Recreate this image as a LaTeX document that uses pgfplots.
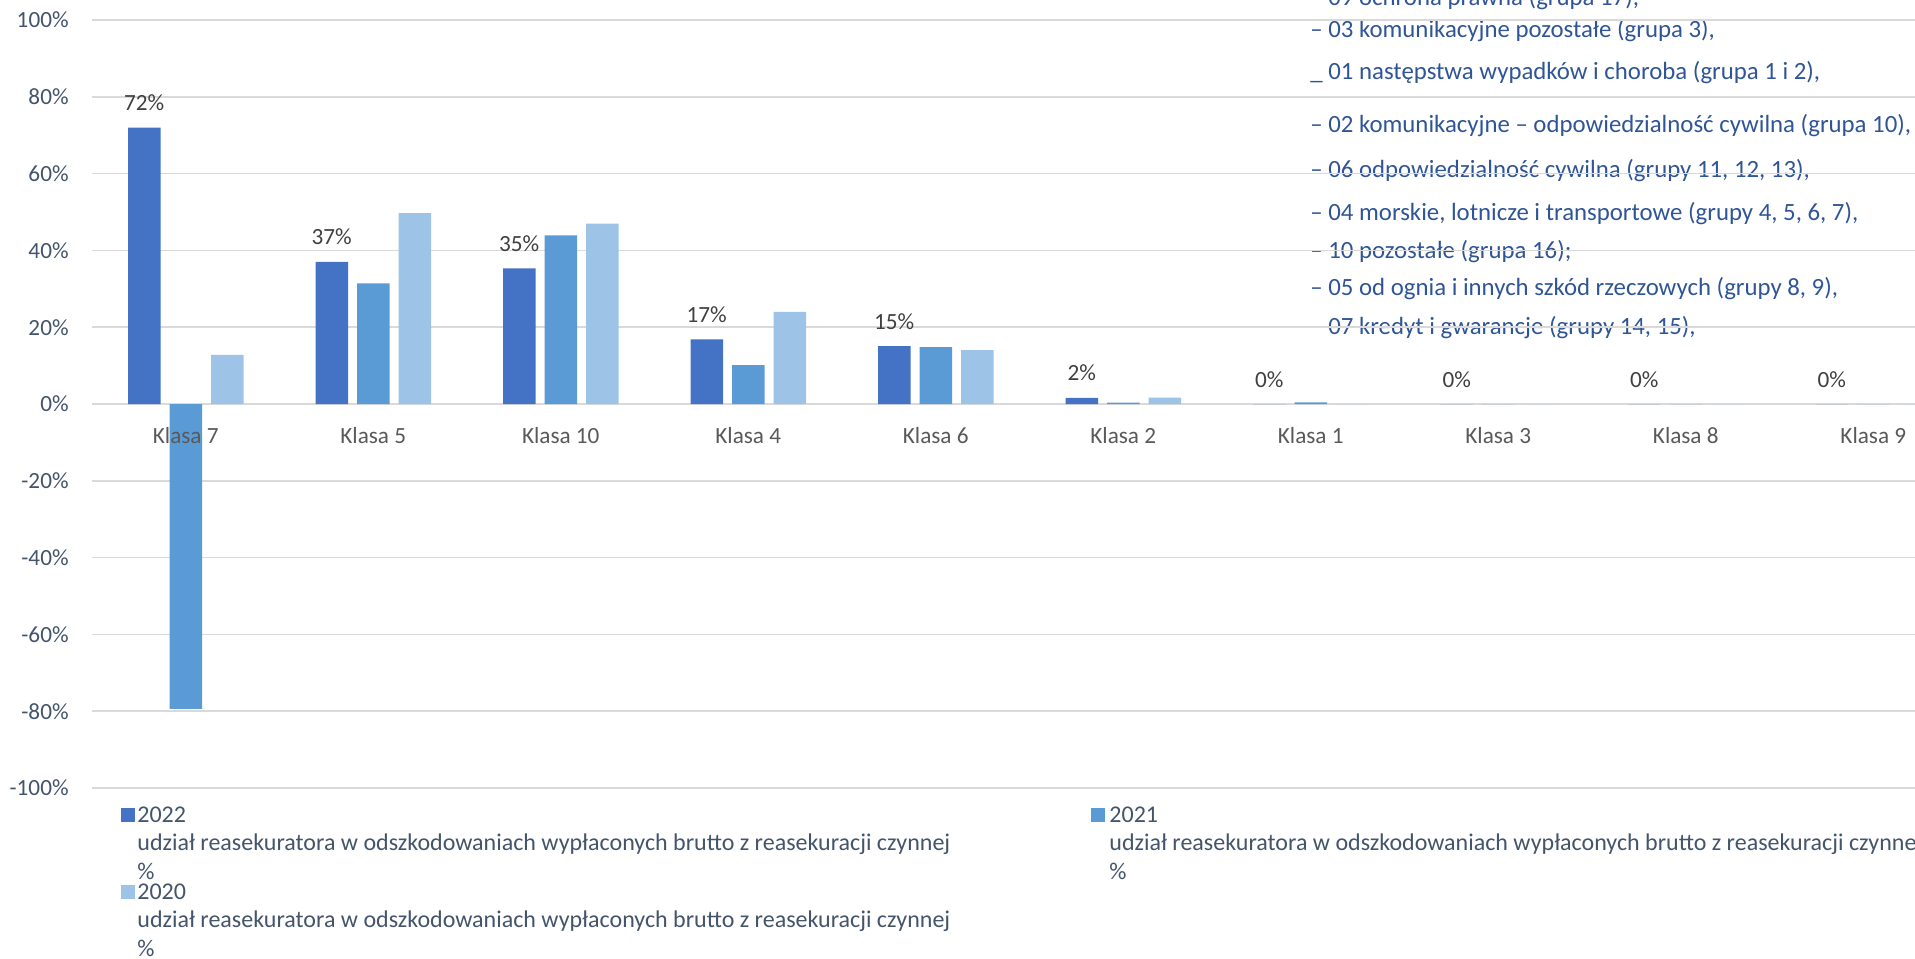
\documentclass[border=0pt]{standalone}
\usepackage{fontspec}
\setmainfont{Carlito}
\usepackage{pgfplots}
\pgfplotsset{compat=1.18}
\definecolor{c22}{HTML}{4472C4}
\definecolor{c21}{HTML}{5B9BD5}
\definecolor{c20}{HTML}{9DC3E6}
\definecolor{gridc}{HTML}{D9D9D9}
\definecolor{ovl}{HTML}{2F5597}
\definecolor{ytc}{HTML}{44546A}
\definecolor{xtc}{HTML}{595959}
\definecolor{dlc}{HTML}{404040}
\begin{document}
\begin{tikzpicture}[x=0.5pt,y=-0.5pt]
\useasboundingbox (0,0) rectangle (1915,958);
\clip (0,0) rectangle (1915,958);
% overlaid text (behind the grid)
\begin{scope}[every node/.style={anchor=base west, inner sep=0pt, text=ovl, font=\fontsize{12.4}{14}\selectfont}]
\node at (1310,5) {– 09 ochrona prawna (grupa 17),};
\node at (1310,37) {– 03 komunikacyjne pozostałe (grupa 3),};
\node at (1310,79) {\_ 01 następstwa wypadków i choroba (grupa 1 i 2),};
\node at (1310,132) {– 02 komunikacyjne – odpowiedzialność cywilna (grupa 10),};
\node at (1310,177) {– 06 odpowiedzialność cywilna (grupy 11, 12, 13),};
\node at (1310,220) {– 04 morskie, lotnicze i transportowe (grupy 4, 5, 6, 7),};
\node at (1310,258) {– 10 pozostałe (grupa 16);};
\node at (1310,295) {– 05 od ognia i innych szkód rzeczowych (grupy 8, 9),};
\node at (1310,334) {– 07 kredyt i gwarancje (grupy 14, 15),};
\end{scope}
\coordinate (sw) at (92,788);
\begin{axis}[
  at={(sw)}, anchor=south west,
  scale only axis, width=937.5pt, height=384pt,
  xmin=-0.5, xmax=9.5, ymin=-100, ymax=100,
  axis line style={draw=none},
  major tick length=0pt,
  xtick=\empty,
  ytick={-100,-80,-60,-40,-20,0,20,40,60,80,100},
  yticklabels={-100\%,-80\%,-60\%,-40\%,-20\%,0\%,20\%,40\%,60\%,80\%,100\%},
  ymajorgrids, grid style={gridc, line width=0.8pt},
  ybar=4.5pt, bar width=16.25pt,
  yticklabel style={anchor=east, inner sep=0pt, xshift=-11.5pt, text=ytc, font=\fontsize{11.6}{13}\selectfont},
  clip=false,
]
\addplot[fill=c22, draw=none, point meta=explicit symbolic,
  nodes near coords,
  every node near coord/.append style={anchor=base, inner sep=0pt, yshift=8.5pt, text=dlc, font=\fontsize{11.6}{13}\selectfont}]
  coordinates {(0,72.0)[72\%] (1,37.0)[37\%] (2,35.3)[35\%] (3,16.8)[17\%] (4,15.1)[15\%] (5,1.6)[2\%] (6,0)[0\%] (7,0)[0\%] (8,0)[0\%] (9,0)[0\%]};
\addplot[fill=c21, draw=none]
  coordinates {(0,-79.4) (1,31.4) (2,43.9) (3,10.1) (4,14.8) (5,0.35) (6,0.4) (7,0) (8,0) (9,0)};
\addplot[fill=c20, draw=none]
  coordinates {(0,12.8) (1,49.7) (2,47.0) (3,24.0) (4,14.0) (5,1.65) (6,0) (7,0) (8,0) (9,0)};
% category labels, drawn above the bars
\begin{scope}[every node/.style={anchor=base, inner sep=0pt, yshift=-19.5pt, text=xtc, font=\fontsize{11.6}{13}\selectfont}]
\node at (axis cs:0,0) {Klasa 7};
\node at (axis cs:1,0) {Klasa 5};
\node at (axis cs:2,0) {Klasa 10};
\node at (axis cs:3,0) {Klasa 4};
\node at (axis cs:4,0) {Klasa 6};
\node at (axis cs:5,0) {Klasa 2};
\node at (axis cs:6,0) {Klasa 1};
\node at (axis cs:7,0) {Klasa 3};
\node at (axis cs:8,0) {Klasa 8};
\node at (axis cs:9,0) {Klasa 9};
\end{scope}
\end{axis}
% legend
\begin{scope}[every node/.style={anchor=base west, inner sep=0pt, text=ytc, font=\fontsize{12}{14}\selectfont}]
\fill[c22] (121,808) rectangle (135,822);
\node at (137,822) {2022};
\node at (137,850) {udział reasekuratora w odszkodowaniach wypłaconych brutto z reasekuracji czynnej};
\node at (137,879) {\%};
\fill[c20] (121,885) rectangle (135,899);
\node at (137,899) {2020};
\node at (137,927) {udział reasekuratora w odszkodowaniach wypłaconych brutto z reasekuracji czynnej};
\node at (137,956) {\%};
\fill[c21] (1091,808) rectangle (1105,822);
\node at (1109,822) {2021};
\node at (1109,850) {udział reasekuratora w odszkodowaniach wypłaconych brutto z reasekuracji czynnej};
\node at (1109,879) {\%};
\end{scope}
\end{tikzpicture}
\end{document}
